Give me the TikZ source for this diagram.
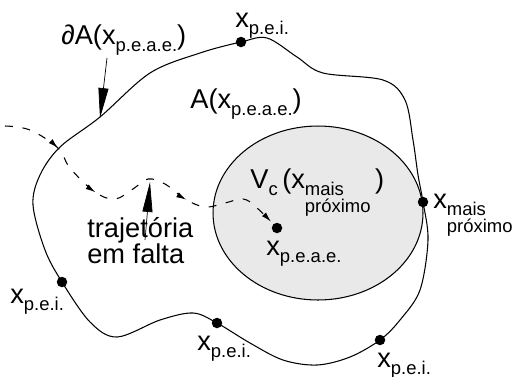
\documentclass[tikz,border=0pt]{standalone}
\usepackage{fontspec}
\setmainfont{Liberation Sans}
\usetikzlibrary{arrows.meta,decorations.markings,shapes.geometric}

\newcommand{\lowtxt}[1]{\raisebox{-0.5ex}{\fontsize{10.5}{10.5}\selectfont #1}}
\newcommand{\nearsub}{\raisebox{-0.5ex}{\fontsize{10.5}{6.4}\selectfont\begin{tabular}[t]{@{}l@{}}mais\\próximo\end{tabular}}}

\begin{document}
\begin{tikzpicture}[
    x=0.02cm, y=-0.02cm,
    lbl/.style={anchor=base west, inner sep=0pt, font=\fontsize{15.5}{17}\selectfont},
    ptdot/.style={circle, fill=black, inner sep=0pt, minimum size=2.1mm},
    border/.style={semithick, black},
    region/.style={semithick, draw=black, fill=gray!17},
    pointer/.style={-{Triangle[length=6mm, width=2mm]}, thin},
    traj/.style={semithick, dash pattern=on 4.5pt off 5.5pt,
        postaction={decorate, decoration={markings,
            mark=at position 0.18 with {\arrow{Latex[length=2mm, width=1.1mm]}},
            mark=at position 0.36 with {\arrow{Latex[length=2mm, width=1.1mm]}},
            mark=at position 0.68 with {\arrow{Latex[length=2mm, width=1.1mm]}}}}},
]
\useasboundingbox (0,0) rectangle (513,376);

% === REGION V_c ===
\node[region, ellipse, minimum width=4.2cm, minimum height=3.48cm, inner sep=0pt] (vc) at (318,213) {};

% === BOUNDARY OF A ===
\draw[border] plot[smooth cycle, tension=0.55] coordinates {
    (241,42) (267,38) (297,57) (323,73) (383,80) (405,100) (413,140) (418,175)
    (423,202) (428,240) (420,290) (400,320) (380,340) (350,357) (317,365)
    (283,360) (250,343) (217,323) (193,313) (160,320) (117,337) (90,322)
    (62,282) (45,250) (33,205) (40,175) (60,147) (100,117) (150,73) (200,53)};

% points on the boundary
\node[ptdot] (pei-top) at (241,42) {};
\node[ptdot] (pei-left) at (62,282) {};
\node[ptdot] (pei-bot) at (217,323) {};
\node[ptdot] (pei-right) at (380,340) {};
\node[ptdot] (near) at (423,202) {};
\node[ptdot] (peae) at (277,228) {};

% === LABELS ===
\node[lbl] (pei-top-lbl) at (235,27) {x\lowtxt{p.e.i.}};
\node[lbl] (pei-left-lbl) at (10,303) {x\lowtxt{p.e.i.}};
\node[lbl] (pei-bot-lbl) at (197,350) {x\lowtxt{p.e.i.}};
\node[lbl] (pei-right-lbl) at (377,367) {x\lowtxt{p.e.i.}};
\node[lbl] (near-lbl) at (433,208) {x\nearsub};
\node[lbl] (peae-lbl) at (266,255) {x\lowtxt{p.e.a.e.}};
\node[lbl] (bd-lbl) at (61,44) {∂A(x\lowtxt{p.e.a.e.})};
\node[lbl] (a-lbl) at (190,108) {A(x\lowtxt{p.e.a.e.})};
\node[lbl] (vc-lbl) at (250,188) {V\lowtxt{c}\,(x\nearsub\,)};
\node[lbl, align=left, font=\fontsize{15.5}{14.5}\selectfont] (traj-lbl) at (87,263) {trajetória\\em falta};

% === ARROWS ===
\coordinate (bd-tail) at (107,58);
\coordinate (bd-hit) at (100,118);
\draw[pointer] (bd-tail) -- (bd-hit);

\coordinate (traj-tail) at (145,240);
\coordinate (traj-tip) at (150,182);
\draw[pointer] (traj-tail) -- (traj-tip);

% missing trajectory
\coordinate (traj-start) at (5,126);
\draw[traj, -{Latex[length=2mm, width=1.1mm]}, shorten >=5pt] plot[smooth, tension=0.6] coordinates {
    (traj-start) (30,130) (58,148) (70,168) (95,192) (115,199) (133,189)
    (148,179) (165,184) (185,199) (205,207) (225,203) (243,199) (256,207) (peae)};

\end{tikzpicture}
\end{document}
